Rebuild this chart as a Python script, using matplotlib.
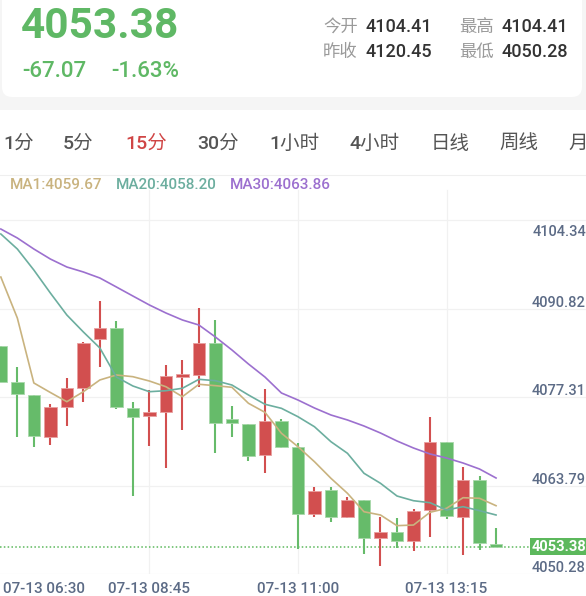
import matplotlib
matplotlib.use('Agg')
import matplotlib.pyplot as plt
import matplotlib.transforms as mtransforms
from matplotlib.patches import FancyBboxPatch, Rectangle

plt.rcParams['font.family'] = ['Roboto', 'Noto Sans CJK SC', 'DejaVu Sans']

# Données du bandeau
last_price = '4053.38'
change = '-67.07'
change_pct = '-1.63%'
quote_labels = ['今开', '昨收', '最高', '最低']
quote_values = ['4104.41', '4120.45', '4104.41', '4050.28']
periods = ['1分', '5分', '15分', '30分', '1小时', '4小时', '日线', '周线', '月线']
active_period = '15分'
ma_labels = ['MA1:4059.67', 'MA20:4058.20', 'MA30:4063.86']

# Axes
times = ['07-13 06:30', '07-13 08:45', '07-13 11:00', '07-13 13:15']
time_idx = [0, 9, 18, 27]
price_ticks = [4104.34, 4090.82, 4077.31, 4063.79, 4050.28]

# Bougies 15 min
opens = [4085.10, 4079.55, 4077.62, 4071.25, 4075.83, 4078.64, 4086.21, 4087.89, 4075.68, 4074.41,
         4075.06, 4080.41, 4080.67, 4085.60, 4073.90, 4073.19, 4068.45, 4073.60, 4069.72, 4059.40,
         4063.11, 4059.03, 4061.58, 4055.73, 4056.74, 4055.32, 4060.05, 4070.39, 4059.03, 4064.63,
         4054.86]
closes = [4079.65, 4077.72, 4071.35, 4075.78, 4078.64, 4085.51, 4087.80, 4075.74, 4074.30, 4074.97,
          4080.52, 4080.82, 4085.51, 4073.39, 4073.29, 4068.35, 4073.69, 4069.72, 4059.40, 4062.95,
          4059.03, 4061.58, 4055.73, 4056.65, 4055.32, 4059.90, 4070.48, 4059.18, 4064.63, 4054.97,
          4054.45]
highs = [4085.10, 4081.94, 4077.62, 4076.20, 4080.17, 4085.75, 4092.02, 4088.87, 4076.55, 4078.38,
         4082.15, 4082.91, 4090.85, 4089.07, 4075.98, 4073.19, 4078.53, 4074.00, 4070.33, 4063.52,
         4063.52, 4061.99, 4061.58, 4059.03, 4058.79, 4060.25, 4074.30, 4070.39, 4066.67, 4065.25,
         4057.26]
lows = [4079.65, 4071.25, 4069.72, 4069.98, 4072.88, 4076.59, 4081.94, 4075.43, 4062.24, 4069.83,
        4066.51, 4072.27, 4078.79, 4068.71, 4071.16, 4067.58, 4065.75, 4069.48, 4054.05, 4059.03,
        4058.18, 4058.79, 4053.33, 4051.50, 4054.30, 4053.84, 4055.98, 4058.63, 4053.18, 4053.95,
        4054.45]

# Moyennes mobiles
ma1 = [4095.63, 4089.37, 4079.45, 4078.00, 4076.59, 4078.12, 4079.91, 4080.67, 4080.41, 4079.75,
       4078.88, 4077.36, 4079.25, 4079.04, 4078.79, 4076.35, 4074.97, 4071.77, 4069.72, 4067.43,
       4064.89, 4062.60, 4059.79, 4059.29, 4057.66, 4057.76, 4059.70, 4060.31, 4061.93, 4061.84,
       4060.71]
ma20 = [4102.20, 4099.91, 4096.70, 4093.19, 4089.83, 4087.24, 4084.79, 4080.36, 4078.99, 4078.12,
        4078.27, 4078.64, 4080.01, 4079.80, 4079.14, 4077.62, 4076.20, 4075.58, 4074.30, 4072.77,
        4070.48, 4068.71, 4065.66, 4064.13, 4062.19, 4061.47, 4061.17, 4060.05, 4060.56, 4059.95,
        4059.29]
ma30 = [4102.96, 4101.59, 4099.91, 4098.38, 4097.16, 4096.40, 4095.48, 4094.11, 4092.73, 4091.36,
        4090.14, 4089.07, 4088.30, 4086.47, 4084.49, 4082.35, 4080.36, 4077.92, 4076.85, 4075.63,
        4074.56, 4073.80, 4072.88, 4071.81, 4070.59, 4069.52, 4068.61, 4067.99, 4067.23, 4066.31,
        4064.94]

up_col = '#d24f4f'
down_col = '#66bb6a'
up_edge = '#e8a0a0'
down_edge = '#a8d8aa'
ma_cols = ['#c9b37f', '#6cae9f', '#9c70cf']
axis_txt = '#5c6b86'

W, H = 586, 596
fig = plt.figure(figsize=(W / 100, H / 100), dpi=100)

# Fond en coordonnées pixels
bg = fig.add_axes([0, 0, 1, 1])
bg.set_xlim(0, W)
bg.set_ylim(H, 0)
bg.axis('off')
bg.add_patch(Rectangle((0, 0), W, 110, facecolor='#f5f5f5', edgecolor='none'))
bg.add_patch(FancyBboxPatch((2, -30), 580, 127, boxstyle='round,pad=0,rounding_size=10',
                            facecolor='white', edgecolor='none'))

bg.text(21, 38, last_price, fontsize=30.5, weight='bold', color='#5fb865', va='baseline')
bg.text(22, 77, change, fontsize=16, weight='medium', color='#5fb865', va='baseline')
bg.text(111, 77, change_pct, fontsize=16, weight='medium', color='#5fb865', va='baseline')

qx = [323, 323, 459, 459]
qy = [32, 57, 32, 57]
for lab, val, x, y in zip(quote_labels, quote_values, qx, qy):
    bg.text(x, y, lab, fontsize=12.5, color='#9a9a9a', va='baseline')
    bg.text(x + 42, y, val, fontsize=13, weight='medium', color='#333333', va='baseline')

tab_x = [3, 63, 125, 197, 269, 349, 431, 499, 568]
for p, x in zip(periods, tab_x):
    bg.text(x, 149, p, fontsize=14, weight='medium', va='baseline',
            color='#d04545' if p == active_period else '#555555')

bg.plot([0, W], [175, 175], color='#efefef', lw=0.8)
leg_x = [10, 116, 230]
for lab, x, c in zip(ma_labels, leg_x, ma_cols):
    bg.text(x, 189, lab, fontsize=11, weight='medium', color=c, va='baseline')

# Graphique des bougies
top_px, bot_px = 175, 574
ax = fig.add_axes([0, (H - bot_px) / H, 1, (bot_px - top_px) / H])
ax.patch.set_alpha(0)
for s in ax.spines.values():
    s.set_visible(False)
ax.set_xticks([])
ax.set_yticks([])
ax.set_xlim(-0.05, 35.45)
ax.set_ylim(4050.28, 4111.21)

for p in price_ticks:
    ax.axhline(p, color='#f1f1f1', lw=0.9, zorder=0)
for i in time_idx[1:]:
    ax.axvline(i, ymax=(bot_px - 190) / (bot_px - top_px), color='#f1f1f1', lw=0.9, zorder=0)

xs = list(range(len(opens)))
for x, o, h, l, c in zip(xs, opens, highs, lows, closes):
    up = c >= o
    col = up_col if up else down_col
    ax.vlines(x, l, h, color=col, lw=1.5, zorder=2)
    ax.bar(x, max(abs(c - o), 0.35), bottom=min(o, c), width=0.75, color=col,
           edgecolor=up_edge if up else down_edge, linewidth=0.6, zorder=3)

for ma, c in zip([ma1, ma20, ma30], ma_cols):
    ax.plot(xs, ma, color=c, lw=1.2, zorder=4)

# Ligne du dernier prix
last_close = closes[-1]
ax.plot([-0.05, 32.15], [last_close, last_close], color='#5cb85c', lw=1.1,
        linestyle=(0, (1, 1.5)), zorder=1)
ax.text(1.0, last_close, last_price, transform=ax.get_yaxis_transform(), ha='right',
        va='center', fontsize=10.5, weight='bold', color='white', zorder=6,
        bbox=dict(boxstyle='square,pad=0.12', facecolor='#5cb85c', edgecolor='none'))

# Étiquettes de prix
ytr = ax.get_yaxis_transform()
for k, p in enumerate(price_ticks):
    dy = -16 if k == 0 else 2
    tr = mtransforms.offset_copy(ytr, fig=fig, x=0, y=dy, units='dots')
    ax.text(1.0, p, f'{p:.2f}', transform=tr, ha='right', va='baseline',
            fontsize=10.5, weight='medium', color=axis_txt)

# Étiquettes de temps
xtr = mtransforms.blended_transform_factory(ax.transData, ax.transAxes)
xtr = mtransforms.offset_copy(xtr, fig=fig, x=0, y=-19, units='dots')
for k, (i, t) in enumerate(zip(time_idx, times)):
    ax.text(i + (0.15 if k == 0 else 0), 0, t, transform=xtr, ha='left' if k == 0 else 'center',
            va='baseline', fontsize=11, weight='medium', color=axis_txt)

fig.savefig('out.png', dpi=100)
